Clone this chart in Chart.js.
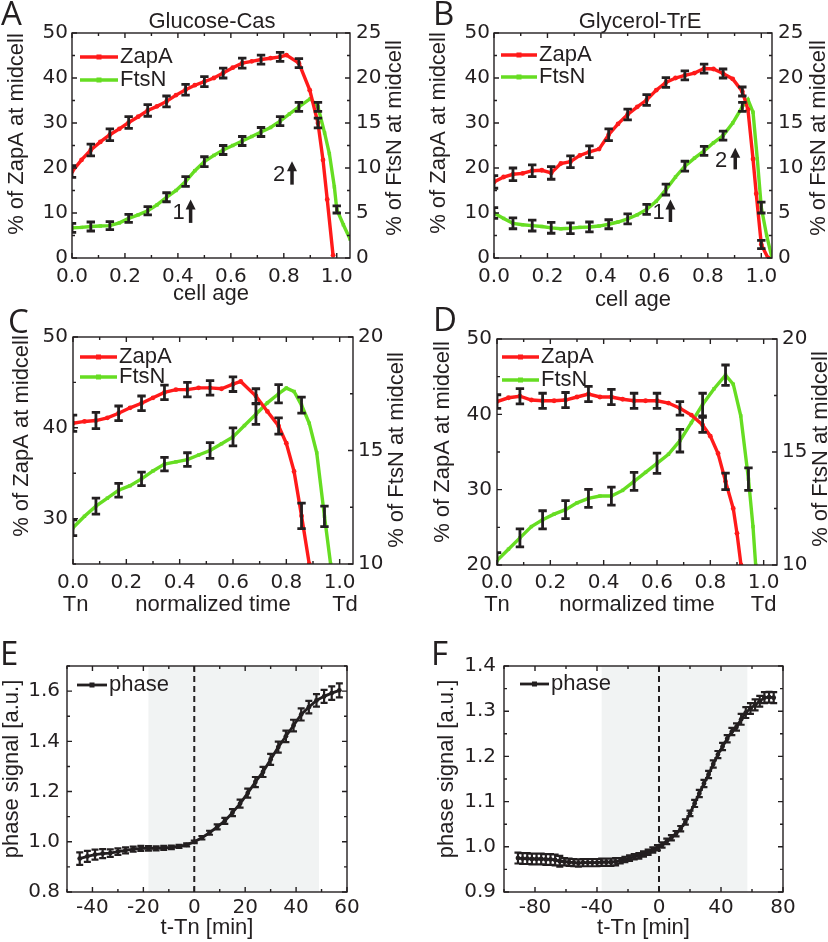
<!DOCTYPE html>
<html>
<head>
<meta charset="utf-8">
<title>ZapA / FtsN at midcell</title>
<script src="https://cdn.jsdelivr.net/npm/chart.js@4.4.1/dist/chart.umd.min.js"></script>
<style>
  body { margin: 0; width: 828px; height: 942px; position: relative; overflow: hidden; background: #fff;
         font-family: "Liberation Sans", Arial, sans-serif; color: #231f20; }
  canvas { position: absolute; }
  .tag { position: absolute; font-family: "Open Sans", sans-serif; font-size: 33px; line-height: 1; }
  .sub { position: absolute; font-size: 22px; line-height: 1; transform: translate(-50%, -50%); white-space: nowrap; }
</style>
</head>
<body>
<canvas id="cA"></canvas>
<canvas id="cB"></canvas>
<canvas id="cC"></canvas>
<canvas id="cD"></canvas>
<canvas id="cE"></canvas>
<canvas id="cF"></canvas>
<div class="tag" style="left:1px;top:-4px">A</div>
<div class="tag" style="left:433px;top:-4px">B</div>
<div class="tag" style="left:8px;top:304px">C</div>
<div class="tag" style="left:433px;top:302px">D</div>
<div class="tag" style="left:0px;top:636px">E</div>
<div class="tag" style="left:431px;top:636px">F</div>
<div class="sub" style="left:212px;top:21px">Glucose-Cas</div>
<div class="sub" style="left:640px;top:21px">Glycerol-TrE</div>
<script>
// ---------- tick labels ----------
const cellAgeTicks = [0, 0.2, 0.4, 0.6, 0.8, 1.0];
const zapTicksAB = [0, 10, 20, 30, 40, 50];
const ftsTicksAB = [0, 5, 10, 15, 20, 25];
const zapTicksC = [30, 40, 50];
const zapTicksD = [20, 30, 40, 50];
const ftsTicksCD = [10, 15, 20];
const eXTicks = [-40, -20, 0, 20, 40, 60];
const eYTicks = [0.8, 1.0, 1.2, 1.4, 1.6];
const fXTicks = [-80, -40, 0, 40, 80];
const fYTicks = [0.9, 1.0, 1.1, 1.2, 1.3, 1.4];

// ---------- A: Glucose-Cas ----------
const aZapX = [0, 0.036, 0.071, 0.107, 0.143, 0.179, 0.214, 0.25, 0.286, 0.321, 0.357, 0.393, 0.429, 0.464, 0.5, 0.536, 0.571, 0.607, 0.643, 0.679, 0.714, 0.75, 0.786, 0.81, 0.857, 0.898, 0.929, 0.948, 0.964, 0.986];
const aZapY = [19.2, 21.8, 24.0, 25.8, 27.4, 28.7, 30.1, 31.4, 32.8, 33.7, 34.8, 36.2, 37.4, 38.4, 39.2, 40.0, 41.1, 42.3, 43.3, 43.7, 44.1, 44.4, 44.7, 45.1, 43.3, 37.3, 30.0, 21.8, 13.0, 0.6];
const aZapErr = [1.3, null, 1.3, null, 1.3, null, 1.3, null, 1.3, null, 1.2, null, 1.2, null, 1.1, null, 1.1, null, 1.1, null, 1.0, null, 1.0, null, 1.0, null, 1.1, null, null, null];
const aFtsX = [0, 0.036, 0.071, 0.107, 0.143, 0.179, 0.214, 0.25, 0.286, 0.321, 0.357, 0.393, 0.429, 0.464, 0.5, 0.536, 0.571, 0.607, 0.643, 0.679, 0.714, 0.75, 0.786, 0.821, 0.857, 0.9, 0.929, 0.954, 0.972, 0.991, 1.0, 1.025, 1.05];
const aFtsY = [3.35, 3.4, 3.5, 3.55, 3.6, 3.9, 4.4, 4.8, 5.25, 5.9, 6.75, 7.5, 8.5, 9.7, 10.7, 11.4, 12.0, 12.5, 13.0, 13.5, 14.0, 14.5, 15.2, 16.0, 16.8, 17.7, 16.8, 13.9, 11.6, 7.9, 5.4, 3.7, 2.1];
const aFtsErr = [0.5, null, 0.5, null, 0.45, null, 0.45, null, 0.45, null, 0.5, null, 0.55, null, 0.55, null, 0.5, null, 0.5, null, 0.5, null, 0.5, null, 0.5, null, 0.5, null, null, null, 0.4, null, null];

// ---------- B: Glycerol-TrE ----------
const bZapX = [0, 0.036, 0.071, 0.107, 0.143, 0.179, 0.214, 0.25, 0.286, 0.321, 0.357, 0.393, 0.429, 0.464, 0.5, 0.536, 0.571, 0.607, 0.643, 0.679, 0.714, 0.75, 0.786, 0.821, 0.857, 0.893, 0.929, 0.95, 0.969, 0.981, 1.0, 1.025];
const bZapY = [16.9, 18.0, 18.6, 18.8, 19.4, 19.5, 18.9, 21.0, 21.4, 22.8, 23.6, 24.2, 27.4, 29.8, 31.9, 33.6, 35.1, 37.3, 39.0, 40.0, 40.6, 41.1, 42.1, 42.0, 41.0, 39.8, 37.0, 33.0, 22.0, 14.3, 3.0, 0.0];
const bZapErr = [1.4, null, 1.4, null, 1.3, null, 1.4, null, 1.3, null, 1.3, null, 1.3, null, 1.2, null, 1.2, null, 1.1, null, 1.0, null, 1.0, null, 1.0, null, 1.0, null, null, null, 0.9, null];
const bFtsX = [0, 0.036, 0.071, 0.107, 0.143, 0.179, 0.214, 0.25, 0.286, 0.321, 0.357, 0.393, 0.429, 0.464, 0.5, 0.536, 0.571, 0.607, 0.643, 0.679, 0.714, 0.75, 0.786, 0.821, 0.857, 0.893, 0.929, 0.95, 0.969, 0.985, 1.0, 1.02, 1.04];
const bFtsY = [5.0, 4.4, 3.85, 3.7, 3.6, 3.5, 3.35, 3.25, 3.3, 3.4, 3.45, 3.55, 3.75, 4.0, 4.35, 4.8, 5.4, 6.3, 7.6, 9.0, 10.2, 11.1, 11.9, 12.8, 13.6, 15.0, 16.8, 17.6, 16.2, 11.0, 5.6, 2.5, 0.0];
const bFtsErr = [0.6, null, 0.6, null, 0.6, null, 0.6, null, 0.6, null, 0.55, null, 0.5, null, 0.55, null, 0.55, null, 0.6, null, 0.55, null, 0.5, null, 0.5, null, 0.5, null, null, null, 0.6, null, null];

// ---------- C: Glucose-Cas, normalized time ----------
const cZapX = [0, 0.043, 0.086, 0.129, 0.171, 0.214, 0.257, 0.3, 0.343, 0.386, 0.429, 0.471, 0.514, 0.557, 0.6, 0.629, 0.686, 0.729, 0.771, 0.8, 0.829, 0.857, 0.886];
const cZapY = [40.5, 40.7, 40.8, 41.1, 41.6, 42.2, 42.7, 43.3, 43.9, 44.2, 44.2, 44.4, 44.4, 44.3, 44.8, 45.1, 43.5, 41.8, 40.2, 38.3, 35.2, 30.3, 25.0];
const cZapErr = [0.9, null, 0.9, null, 0.8, null, 0.8, null, 0.8, null, 0.8, null, 0.8, null, 0.8, null, 0.8, null, 0.9, null, null, 1.4, null];
const cFtsX = [0, 0.043, 0.086, 0.129, 0.171, 0.214, 0.257, 0.3, 0.343, 0.386, 0.429, 0.471, 0.514, 0.557, 0.6, 0.643, 0.686, 0.729, 0.771, 0.8, 0.829, 0.857, 0.886, 0.914, 0.943, 0.966];
const cFtsY = [11.6, 12.1, 12.55, 12.9, 13.25, 13.45, 13.75, 14.1, 14.4, 14.5, 14.6, 14.8, 15.0, 15.3, 15.6, 16.1, 16.6, 17.1, 17.5, 17.75, 17.6, 17.0, 16.2, 14.9, 12.1, 10.0];
const cFtsErr = [0.35, null, 0.35, null, 0.3, null, 0.3, null, 0.3, null, 0.3, null, 0.35, null, 0.4, null, 0.45, null, 0.4, null, null, 0.35, null, null, 0.45, null];

// ---------- D: Glycerol-TrE, normalized time ----------
const dZapX = [0, 0.043, 0.086, 0.129, 0.171, 0.214, 0.257, 0.3, 0.343, 0.386, 0.429, 0.471, 0.514, 0.557, 0.6, 0.643, 0.686, 0.729, 0.771, 0.8, 0.829, 0.857, 0.886, 0.9, 0.915];
const dZapY = [41.7, 42.2, 42.4, 41.9, 41.8, 41.8, 41.9, 42.3, 42.7, 42.3, 42.3, 42.0, 41.8, 41.8, 41.8, 41.5, 40.8, 39.9, 38.6, 37.1, 34.8, 31.1, 27.5, 24.2, 20.0];
const dZapErr = [0.9, null, 1.0, null, 1.0, null, 1.0, null, 1.0, null, 1.0, null, 1.0, null, 1.0, null, 0.9, null, 1.0, null, null, 1.1, null, null, null];
const dFtsX = [0, 0.043, 0.086, 0.129, 0.171, 0.214, 0.257, 0.3, 0.343, 0.386, 0.429, 0.471, 0.514, 0.557, 0.6, 0.643, 0.686, 0.729, 0.771, 0.814, 0.857, 0.886, 0.914, 0.943, 0.96, 0.97];
const dFtsY = [10.2, 10.7, 11.2, 11.7, 12.0, 12.25, 12.45, 12.75, 12.95, 13.05, 13.05, 13.3, 13.7, 14.1, 14.5, 14.9, 15.5, 16.3, 17.1, 17.8, 18.4, 18.0, 16.6, 13.8, 11.7, 10.0];
const dFtsErr = [0.35, null, 0.4, null, 0.4, null, 0.4, null, 0.4, null, 0.4, null, 0.4, null, 0.45, null, 0.5, null, 0.5, null, 0.45, null, null, 0.5, null, null];

// ---------- E: phase signal, Glucose-Cas ----------
const eX = [-45, -42, -39, -36, -33, -30, -27, -24, -21, -18, -15, -12, -9, -6, -3, 0, 3, 6, 9, 12, 15, 18, 21, 24, 27, 30, 33, 36, 39, 42, 45, 48, 51, 54, 57];
const eY = [0.933, 0.942, 0.949, 0.953, 0.955, 0.961, 0.966, 0.971, 0.974, 0.974, 0.974, 0.976, 0.978, 0.982, 0.988, 1.0, 1.016, 1.036, 1.059, 1.083, 1.116, 1.152, 1.194, 1.238, 1.278, 1.328, 1.377, 1.42, 1.463, 1.507, 1.536, 1.563, 1.579, 1.592, 1.603];
const eErr = [0.025, 0.022, 0.02, 0.018, 0.015, 0.013, 0.012, 0.01, 0.01, 0.009, 0.008, 0.008, 0.007, 0.006, 0.006, 0.005, 0.007, 0.008, 0.01, 0.012, 0.014, 0.016, 0.018, 0.02, 0.02, 0.022, 0.022, 0.023, 0.023, 0.024, 0.025, 0.025, 0.026, 0.027, 0.028];
const eBand = [-18, 49];

// ---------- F: phase signal, Glycerol-TrE ----------
const fX = [-91, -88, -85, -82, -79, -76, -73, -70, -67, -64, -61, -58, -55, -52, -49, -46, -43, -40, -37, -34, -31, -28, -25, -22, -19, -16, -13, -10, -7, -4, -1, 2, 5, 8, 11, 14, 17, 20, 23, 26, 29, 32, 35, 38, 41, 44, 47, 50, 53, 56, 59, 62, 65, 68, 71, 74];
const fY = [0.975, 0.974, 0.974, 0.973, 0.973, 0.973, 0.972, 0.972, 0.971, 0.968, 0.967, 0.966, 0.965, 0.964, 0.965, 0.965, 0.965, 0.965, 0.966, 0.966, 0.966, 0.967, 0.969, 0.972, 0.975, 0.978, 0.980, 0.984, 0.988, 0.993, 0.998, 1.004, 1.012, 1.020, 1.029, 1.040, 1.055, 1.074, 1.096, 1.118, 1.140, 1.160, 1.183, 1.204, 1.222, 1.239, 1.255, 1.265, 1.282, 1.297, 1.306, 1.314, 1.322, 1.330, 1.331, 1.330];
const fErr = [0.012, 0.012, 0.012, 0.012, 0.012, 0.012, 0.012, 0.012, 0.012, 0.012, 0.008, 0.008, 0.008, 0.008, 0.008, 0.008, 0.008, 0.008, 0.008, 0.008, 0.008, 0.008, 0.006, 0.006, 0.006, 0.006, 0.006, 0.006, 0.006, 0.006, 0.006, 0.006, 0.006, 0.006, 0.006, 0.006, 0.006, 0.006, 0.008, 0.008, 0.008, 0.008, 0.008, 0.008, 0.008, 0.008, 0.008, 0.008, 0.012, 0.012, 0.012, 0.012, 0.012, 0.012, 0.012, 0.012];
const fBand = [-37, 57];

// ---------- look ----------
const ink = '#231f20';
const red = '#ff1a1a';
const green = '#66dd22';
const FONT = '"Liberation Sans", Arial, sans-serif';
const tickFont = { family: '"DejaVu Sans", sans-serif', size: 20 };
const titleFont = { family: FONT, size: 22 };

// frame with inward ticks on all four sides
const frame = {
  id: 'frame',
  afterDraw(chart, args, o) {
    const { ctx, chartArea: a, scales } = chart;
    ctx.save();
    ctx.strokeStyle = ink;
    ctx.lineWidth = 1.4;
    ctx.strokeRect(a.left, a.top, a.right - a.left, a.bottom - a.top);
    const each = (scale, step, fn) => {
      const k0 = Math.ceil(scale.min / step - 1e-6), k1 = Math.floor(scale.max / step + 1e-6);
      for (let k = k0; k <= k1; k++) {
        const v = k * step;
        const major = scale.ticks.some(t => Math.abs(t.value - v) < step / 10);
        fn(scale.getPixelForValue(v), major ? 5 : 3);
      }
    };
    ctx.beginPath();
    each(scales.x, o.x, (p, len) => {
      ctx.moveTo(p, a.bottom); ctx.lineTo(p, a.bottom - len);
      ctx.moveTo(p, a.top); ctx.lineTo(p, a.top + len);
    });
    each(scales.y, o.y, (p, len) => { ctx.moveTo(a.left, p); ctx.lineTo(a.left + len, p); });
    each(scales.y2 || scales.y, scales.y2 ? o.y2 : o.y, (p, len) => { ctx.moveTo(a.right, p); ctx.lineTo(a.right - len, p); });
    ctx.stroke();
    ctx.restore();
  }
};

// black error bars with caps
const errorBars = {
  id: 'errorBars',
  afterDatasetsDraw(chart) {
    const { ctx, chartArea: a, scales } = chart;
    ctx.save();
    ctx.beginPath();
    ctx.rect(a.left, a.top, a.right - a.left, a.bottom - a.top);
    ctx.clip();
    ctx.strokeStyle = ink;
    chart.data.datasets.forEach(ds => {
      if (!ds.errs) return;
      const ys = scales[ds.yAxisID];
      ctx.lineWidth = ds.errWidth;
      ctx.beginPath();
      ds.data.forEach((p, i) => {
        const e = ds.errs[i];
        if (e == null) return;
        const px = scales.x.getPixelForValue(p.x);
        const lo = ys.getPixelForValue(p.y - e), hi = ys.getPixelForValue(p.y + e);
        ctx.moveTo(px, lo); ctx.lineTo(px, hi);
        ctx.moveTo(px - ds.cap, lo); ctx.lineTo(px + ds.cap, lo);
        ctx.moveTo(px - ds.cap, hi); ctx.lineTo(px + ds.cap, hi);
      });
      ctx.stroke();
    });
    ctx.restore();
  }
};

// shading, zero line, legend, rotated titles, arrows, Tn/Td
const notes = {
  id: 'notes',
  beforeDatasetsDraw(chart, args, o) {
    const { ctx, chartArea: a, scales: { x } } = chart;
    ctx.save();
    if (o.band) {
      const x0 = x.getPixelForValue(o.band[0]), x1 = x.getPixelForValue(o.band[1]);
      ctx.fillStyle = '#f1f3f3';
      ctx.fillRect(x0, a.top, x1 - x0, a.bottom - a.top);
    }
    if (o.zero) {
      const p = x.getPixelForValue(0);
      ctx.strokeStyle = ink;
      ctx.lineWidth = 2;
      ctx.setLineDash([6, 4]);
      ctx.beginPath(); ctx.moveTo(p, a.top); ctx.lineTo(p, a.bottom); ctx.stroke();
    }
    ctx.restore();
  },
  afterDraw(chart, args, o) {
    const { ctx, chartArea: a, scales } = chart;
    const [ox, oy] = o.origin;
    ctx.save();
    ctx.font = '22px ' + FONT;
    ctx.textBaseline = 'middle';
    ctx.fillStyle = ink;
    (o.titles || []).forEach(([text, cx, cy]) => {
      ctx.save();
      ctx.translate(cx - ox, cy - oy);
      ctx.rotate(-Math.PI / 2);
      ctx.textAlign = 'center';
      ctx.fillText(text, 0, 0);
      ctx.restore();
    });
    const lg = o.legend;
    chart.data.datasets.forEach((ds, i) => {
      const y = a.top + lg.dy + i * lg.gap, x0 = a.left + lg.dx;
      ctx.strokeStyle = ds.borderColor;
      ctx.lineWidth = ds.borderWidth;
      ctx.beginPath(); ctx.moveTo(x0, y); ctx.lineTo(x0 + lg.len, y); ctx.stroke();
      ctx.fillStyle = ds.borderColor;
      ctx.fillRect(x0 + lg.len / 2 - 2.5, y - 2.5, 5, 5);
      ctx.fillStyle = ink;
      ctx.textAlign = 'left';
      ctx.fillText(ds.label, x0 + lg.len + 2, y);
    });
    (o.arrows || []).forEach(([xv, y0, y1, label, lx, ly]) => {
      const px = scales.x.getPixelForValue(xv);
      const p0 = scales.y.getPixelForValue(y0), p1 = scales.y.getPixelForValue(y1);
      ctx.strokeStyle = ink;
      ctx.lineWidth = 3.5;
      ctx.beginPath(); ctx.moveTo(px, p0); ctx.lineTo(px, p1 + 8); ctx.stroke();
      ctx.beginPath(); ctx.moveTo(px, p1); ctx.lineTo(px - 5, p1 + 10); ctx.lineTo(px + 5, p1 + 10); ctx.closePath(); ctx.fill();
      ctx.textAlign = 'center';
      ctx.fillText(label, scales.x.getPixelForValue(lx), scales.y.getPixelForValue(ly));
    });
    (o.marks || []).forEach(([text, xv, y]) => {
      ctx.textAlign = 'center';
      ctx.fillText(text, scales.x.getPixelForValue(xv), y - oy);
    });
    ctx.restore();
  }
};

function series(label, xs, ys, errs, color, axis, shape) {
  return { label, xs, ys, errs, color, axis, shape };
}

function draw(p) {
  const cv = document.getElementById(p.id);
  const [bx, by, bw, bh] = p.box, [l, t, r, b] = p.area;
  cv.width = bw; cv.height = bh;
  cv.style.left = bx + 'px'; cv.style.top = by + 'px';
  const axis = (s, extra) => Object.assign({
    type: 'linear', min: s.min, max: s.max,
    afterBuildTicks: sc => { sc.ticks = s.ticks.map(v => ({ value: v })); },
    grid: { display: false, drawTicks: false },
    border: { display: false },
    ticks: { font: tickFont, color: ink, padding: s.pad, autoSkip: false, maxRotation: 0,
             callback: v => v.toFixed(s.dec) }
  }, extra);
  const scales = {
    x: axis(p.x, {
      position: 'bottom',
      afterFit: sc => { sc.height = by + bh - b; },
      title: { display: true, text: p.x.title, font: titleFont, color: ink,
               padding: { top: 0, bottom: Math.max(0, by + bh - p.x.titleY - 13.2) } }
    }),
    y: axis(p.y, { position: 'left', afterFit: sc => { sc.width = l - bx; } })
  };
  if (p.y2) scales.y2 = axis(p.y2, { position: 'right', afterFit: sc => { sc.width = bx + bw - r; } });
  const thin = !p.y2;
  new Chart(cv, {
    type: 'line',
    data: {
      datasets: p.series.map(s => ({
        label: s.label,
        data: s.xs.map((x, i) => ({ x, y: s.ys[i] })),
        errs: s.errs,
        yAxisID: s.axis,
        borderColor: s.color,
        backgroundColor: s.color,
        pointBackgroundColor: s.color,
        borderWidth: thin ? 2.8 : 3.4,
        pointRadius: 2.4,
        pointBorderWidth: 0,
        pointStyle: s.shape,
        tension: 0,
        cap: thin ? 3.5 : 4.2,
        errWidth: thin ? 2.2 : 2.8
      }))
    },
    options: {
      responsive: false,
      animation: false,
      events: [],
      layout: { padding: { left: 0, top: t - by, right: p.y2 ? 0 : bx + bw - r, bottom: 0 } },
      scales,
      plugins: {
        legend: { display: false },
        tooltip: { enabled: false },
        frame: p.minor,
        notes: { origin: [bx, by], titles: p.titles, legend: p.legend, arrows: p.arrows,
                 marks: p.marks, band: p.band, zero: p.zero }
      }
    },
    plugins: [frame, errorBars, notes]
  });
}

const zapLabel = '% of ZapA at midcell';
const ftsLabel = '% of FtsN at midcell';
const phaseLabel = 'phase signal [a.u.]';

draw({
  id: 'cA', box: [0, 15, 412, 297], area: [72, 33, 350, 258],
  x: { min: 0, max: 1.05, ticks: cellAgeTicks, dec: 1, pad: 7, title: 'cell age', titleY: 294 },
  y: { min: 0, max: 50, ticks: zapTicksAB, dec: 0, pad: 4 },
  y2: { min: 0, max: 25, ticks: ftsTicksAB, dec: 0, pad: 6 },
  minor: { x: 0.1, y: 5, y2: 2.5 },
  titles: [[zapLabel, 17, 134], [ftsLabel, 395, 138]],
  legend: { dx: 8, dy: 24, gap: 23, len: 38 },
  arrows: [[0.448, 7.8, 13.0, '1', 0.403, 10.0], [0.831, 16.3, 21.5, '2', 0.782, 18.4]],
  series: [series('ZapA', aZapX, aZapY, aZapErr, red, 'y', 'circle'),
           series('FtsN', aFtsX, aFtsY, aFtsErr, green, 'y2', 'rect')]
});

draw({
  id: 'cB', box: [420, 15, 408, 300], area: [494, 33, 772, 258],
  x: { min: 0, max: 1.04, ticks: cellAgeTicks, dec: 1, pad: 7, title: 'cell age', titleY: 300 },
  y: { min: 0, max: 50, ticks: zapTicksAB, dec: 0, pad: 4 },
  y2: { min: 0, max: 25, ticks: ftsTicksAB, dec: 0, pad: 6 },
  minor: { x: 0.1, y: 5, y2: 2.5 },
  titles: [[zapLabel, 439, 133], [ftsLabel, 819, 138]],
  legend: { dx: 7, dy: 22, gap: 22, len: 36 },
  arrows: [[0.66, 8.0, 13.0, '1', 0.616, 10.0], [0.9025, 19.7, 24.5, '2', 0.85, 21.6]],
  series: [series('ZapA', bZapX, bZapY, bZapErr, red, 'y', 'circle'),
           series('FtsN', bFtsX, bFtsY, bFtsErr, green, 'y2', 'rect')]
});

draw({
  id: 'cC', box: [0, 320, 412, 300], area: [73, 337, 353, 564],
  x: { min: 0, max: 1.05, ticks: cellAgeTicks, dec: 1, pad: 7, title: 'normalized time', titleY: 605 },
  y: { min: 25, max: 50, ticks: zapTicksC, dec: 0, pad: 5 },
  y2: { min: 10, max: 20, ticks: ftsTicksCD, dec: 0, pad: 5 },
  minor: { x: 0.1, y: 5, y2: 2.5 },
  titles: [[zapLabel, 22, 436], [ftsLabel, 397, 450]],
  legend: { dx: 7, dy: 20, gap: 20, len: 37 },
  marks: [['Tn', 0.01, 605], ['Td', 1.02, 605]],
  series: [series('ZapA', cZapX, cZapY, cZapErr, red, 'y', 'circle'),
           series('FtsN', cFtsX, cFtsY, cFtsErr, green, 'y2', 'rect')]
});

draw({
  id: 'cD', box: [420, 320, 408, 300], area: [497, 339, 777, 565],
  x: { min: 0, max: 1.05, ticks: cellAgeTicks, dec: 1, pad: 6, title: 'normalized time', titleY: 605 },
  y: { min: 20, max: 50, ticks: zapTicksD, dec: 0, pad: 5 },
  y2: { min: 10, max: 20, ticks: ftsTicksCD, dec: 0, pad: 5 },
  minor: { x: 0.1, y: 5, y2: 2.5 },
  titles: [[zapLabel, 443, 442], [ftsLabel, 821, 449]],
  legend: { dx: 5, dy: 18, gap: 23, len: 37 },
  marks: [['Tn', 0, 605], ['Td', 1.0, 605]],
  series: [series('ZapA', dZapX, dZapY, dZapErr, red, 'y', 'circle'),
           series('FtsN', dFtsX, dFtsY, dFtsErr, green, 'y2', 'rect')]
});

draw({
  id: 'cE', box: [0, 645, 414, 297], area: [67, 666, 347, 892],
  x: { min: -50, max: 60, ticks: eXTicks, dec: 0, pad: 4, title: 't-Tn [min]', titleY: 928 },
  y: { min: 0.8, max: 1.7, ticks: eYTicks, dec: 1, pad: 7 },
  minor: { x: 10, y: 0.1 },
  titles: [[phaseLabel, 12, 769]],
  legend: { dx: 10, dy: 19, gap: 0, len: 30 },
  band: eBand, zero: true,
  series: [series('phase', eX, eY, eErr, ink, 'y', 'circle')]
});

draw({
  id: 'cF', box: [420, 645, 408, 297], area: [504, 666, 783, 892],
  x: { min: -100, max: 80, ticks: fXTicks, dec: 0, pad: 4, title: 't-Tn [min]', titleY: 928 },
  y: { min: 0.9, max: 1.4, ticks: fYTicks, dec: 1, pad: 8 },
  minor: { x: 20, y: 0.05 },
  titles: [[phaseLabel, 447, 769]],
  legend: { dx: 16, dy: 18, gap: 0, len: 29 },
  band: fBand, zero: true,
  series: [series('phase', fX, fY, fErr, ink, 'y', 'circle')]
});
</script>
</body>
</html>
